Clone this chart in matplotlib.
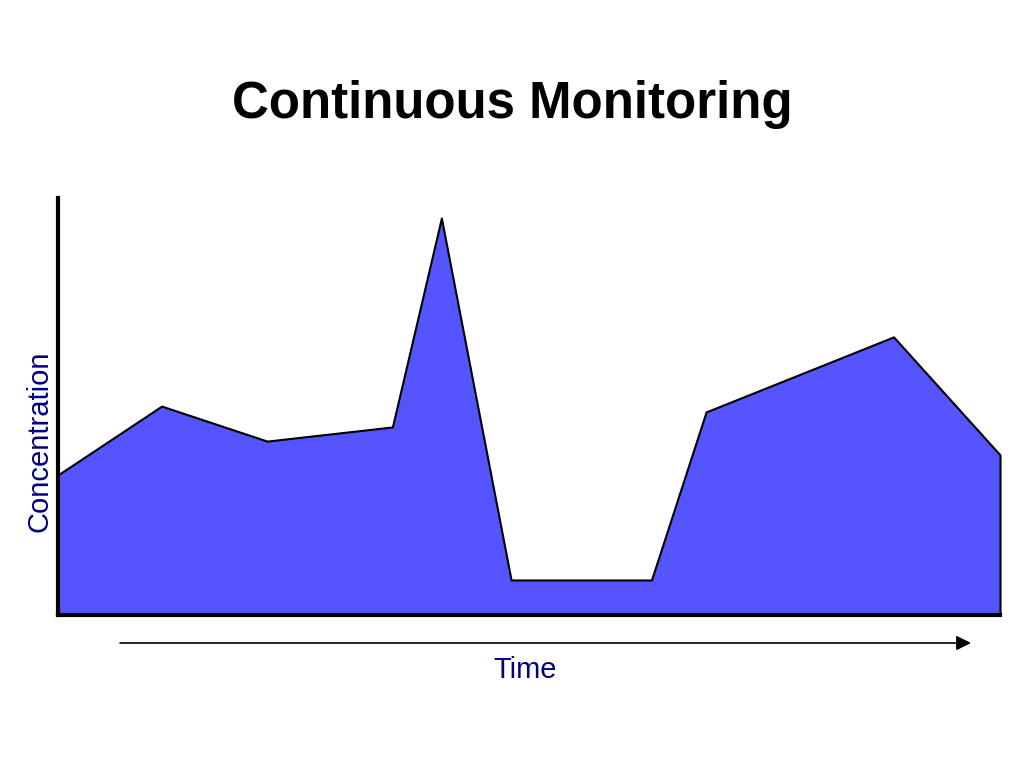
import matplotlib
matplotlib.use("Agg")
import matplotlib.pyplot as plt

# values (time and concentration on a 0-100 scale)
time = [0, 11.0, 22.2, 35.5, 40.7, 48.1, 63.0, 68.8, 88.7, 100]
conc = [33.6, 50.1, 41.7, 45.1, 95.2, 8.4, 8.4, 48.7, 66.7, 38.4]

title = "Continuous Monitoring"
xlabel = "Time"
ylabel = "Concentration"

plt.rcParams['font.family'] = ['Liberation Sans', 'DejaVu Sans']

fig = plt.figure(figsize=(10.24, 7.68), dpi=100)
ax = fig.add_axes([58 / 1024, 153 / 768, 942 / 1024, 417 / 768])

poly = ax.fill_between(time, conc, 0, facecolor='#5555FF', edgecolor='black', linewidth=1.5)
poly.set_clip_on(False)
ax.set_xlim(0, 100)
ax.set_ylim(0, 100)

for s in ['top', 'right']:
    ax.spines[s].set_visible(False)
for s in ['left', 'bottom']:
    ax.spines[s].set_linewidth(3)
    ax.spines[s].set_capstyle('projecting')
    ax.spines[s].set_zorder(3)
ax.set_xticks([])
ax.set_yticks([])

fig.text(512 / 1024, 1 - 118 / 768, title, ha='center', va='baseline',
         fontsize=36.7, fontweight='bold')
fig.text(525 / 1024, 1 - 678 / 768, xlabel, ha='center', va='baseline',
         fontsize=21, color='#000080')
fig.text(40 / 1024, 1 - 441 / 768, ylabel, ha='center', va='center',
         rotation=90, fontsize=21, color='#000080')

# time arrow under the axis
fig.add_artist(matplotlib.patches.FancyArrowPatch(
    (120 / 1024, 1 - 643 / 768), (971 / 1024, 1 - 643 / 768),
    transform=fig.transFigure, arrowstyle='-|>', mutation_scale=22,
    lw=1.2, color='black', shrinkA=0, shrinkB=0))

fig.savefig("out.png", dpi=100)
